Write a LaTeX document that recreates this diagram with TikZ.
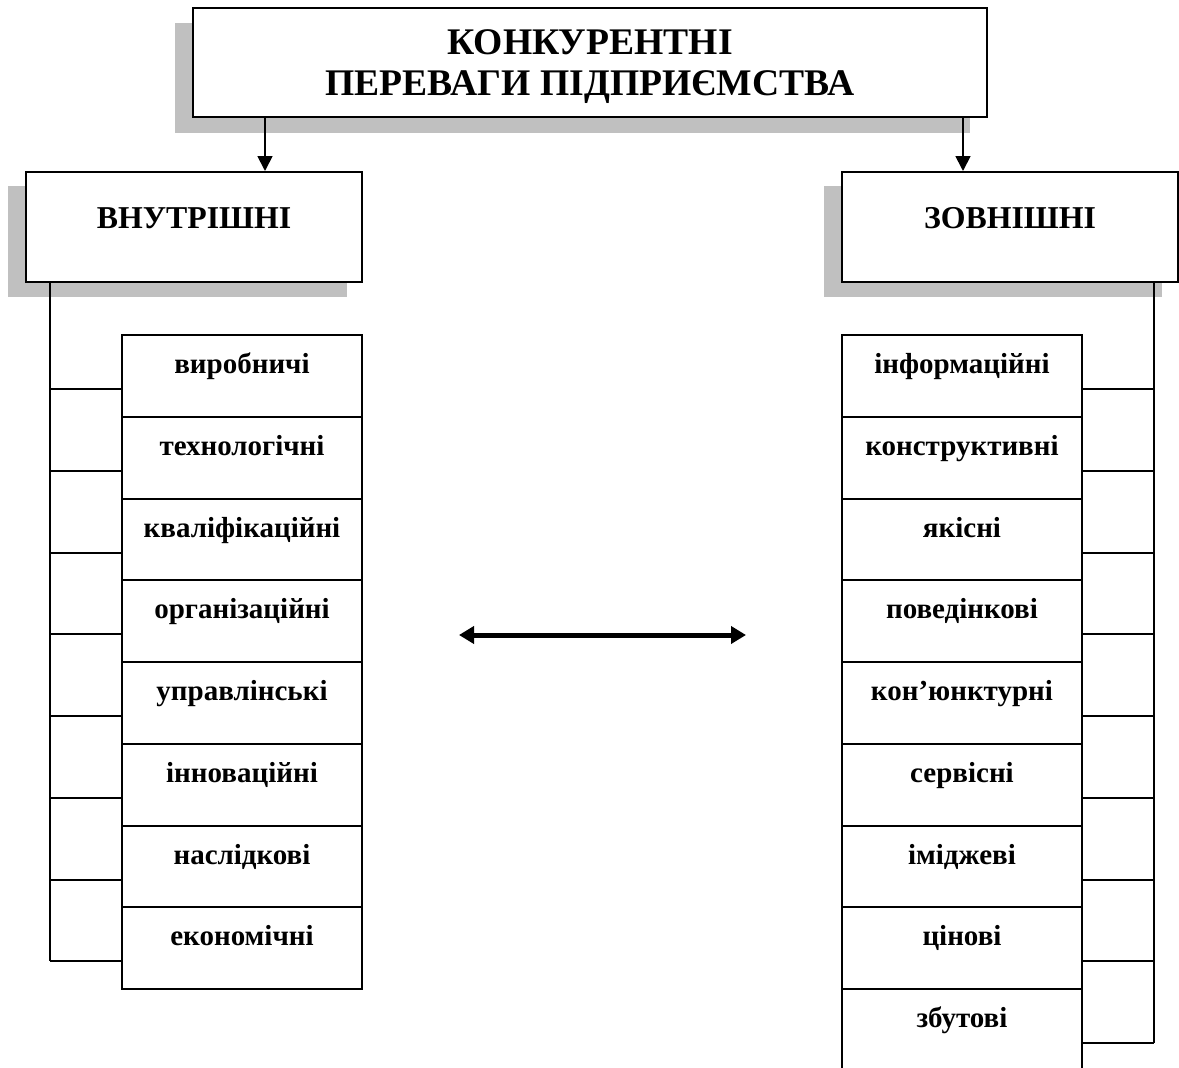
\documentclass[tikz,border=0pt]{standalone}
\usepackage{fontspec}
\setmainfont{Liberation Serif}
\usetikzlibrary{arrows.meta,calc}
\definecolor{shd}{RGB}{192,192,192}
\begin{document}
\begin{tikzpicture}[x=1pt,y=-1pt,
  frame/.style={draw=black,line width=2pt,fill=white,inner sep=0pt},
  conn/.style={line width=1.8pt},
  arr/.style={conn,-{Triangle[length=15pt,width=15pt]}},
  dbl/.style={line width=5pt,{Triangle[length=15pt,width=17pt]}-{Triangle[length=15pt,width=17pt]}},
  ttl/.style={font=\fontsize{37.6}{41}\selectfont\bfseries,anchor=base,inner sep=0pt},
  hdr/.style={font=\fontsize{31.8}{36}\selectfont\bfseries,anchor=base,inner sep=0pt},
  itm/.style={font=\fontsize{29}{32}\selectfont\bfseries,anchor=base,inner sep=0pt}]
\useasboundingbox (0,0) rectangle (1179,1068);

% shadows
\fill[shd] (175,23) rectangle (970,133);
\fill[shd] (8,186) rectangle (347,297);
\fill[shd] (824,186) rectangle (1162,297);

% main boxes
\node[frame,minimum width=794,minimum height=109] (title) at (590,62) {};
\node[ttl] (t1) at (590,54) {КОНКУРЕНТНІ};
\node[ttl] (t2) at (590,95) {ПЕРЕВАГИ ПІДПРИЄМСТВА};

\node[frame,minimum width=336,minimum height=110] (lh) at (194,227) {};
\node[hdr] (lht) at (194,228) {ВНУТРІШНІ};
\node[frame,minimum width=336,minimum height=110] (rh) at (1010,227) {};
\node[hdr] (rht) at (1010,228) {ЗОВНІШНІ};

% arrows from title
\coordinate (la) at (265,0);
\coordinate (ra) at (963,0);
\draw[arr] (title.south -| la) -- (lh.north -| la);
\draw[arr] (title.south -| ra) -- (rh.north -| ra);

% left items
\foreach \t [count=\i] in {виробничі,технологічні,кваліфікаційні,організаційні,управлінські,інноваційні,наслідкові,економічні}{
  \pgfmathsetmacro{\tp}{round(335+81.75*(\i-1))}
  \pgfmathsetmacro{\nx}{round(335+81.75*\i)}
  \node[frame,minimum width=240,minimum height={\nx-\tp}] (l\i) at (242,{(\tp+\nx)/2}) {};
  \node[itm] (lt\i) at ($(l\i.north)+(0,39)$) {\t};
  \coordinate (lc\i) at ($(l\i.north west)+(0,55)$);
}
% right items
\foreach \t [count=\i] in {інформаційні,конструктивні,якісні,поведінкові,кон’юнктурні,сервісні,іміджеві,цінові,збутові}{
  \pgfmathsetmacro{\tp}{round(335+81.75*(\i-1))}
  \pgfmathsetmacro{\nx}{round(335+81.75*\i)}
  \node[frame,minimum width=240,minimum height={\nx-\tp}] (r\i) at (962,{(\tp+\nx)/2}) {};
  \node[itm] (rt\i) at ($(r\i.north)+(0,39)$) {\t};
  \coordinate (rc\i) at ($(r\i.north east)+(0,55)$);
}

% left bus
\coordinate (lbus) at (50,0);
\draw[conn] (lh.south -| lbus) -- (lbus |- lc8);
\foreach \i in {1,...,8}{\draw[conn] (lbus |- lc\i) -- (lc\i);}
% right bus
\coordinate (rbus) at (1154,0);
\draw[conn] (rh.south -| rbus) -- (rbus |- rc9);
\foreach \i in {1,...,9}{\draw[conn] (rc\i) -- (rbus |- rc\i);}

% double arrow
\coordinate (dA) at (459,635);
\coordinate (dB) at (746,635);
\draw[dbl] (dA) -- (dB);
\end{tikzpicture}
\end{document}
